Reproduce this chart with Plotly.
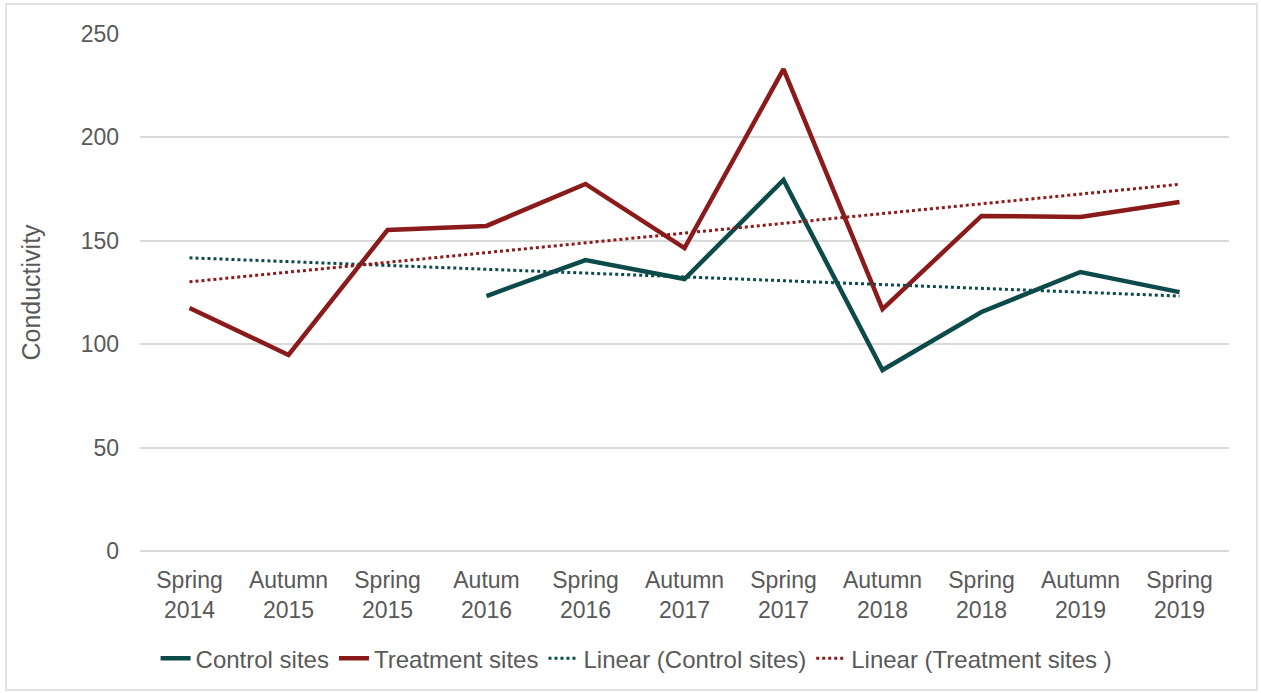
import numpy as np
import plotly.graph_objects as go

# Survey rounds (category labels) and mean conductivity per site group
seasons = ["Spring<br>2014", "Autumn<br>2015", "Spring<br>2015", "Autum<br>2016",
           "Spring<br>2016", "Autumn<br>2017", "Spring<br>2017", "Autumn<br>2018",
           "Spring<br>2018", "Autumn<br>2019", "Spring<br>2019"]
control = [None, None, None, 123.3, 140.7, 131.5, 179.4, 87.5, 115.6, 134.9, 125.2]
treatment = [117.5, 94.8, 155.2, 157.2, 177.5, 146.5, 233.0, 117.0, 162.0, 161.5, 168.8]

TEAL = "#0D4A4A"
RED = "#8B1A1A"


def linear_trend(values):
    """Least-squares line over category index, evaluated across all categories."""
    idx = np.arange(1, len(values) + 1)
    mask = np.array([v is not None for v in values])
    y = np.array([v for v in values if v is not None], dtype=float)
    slope, intercept = np.polyfit(idx[mask], y, 1)
    return list(slope * idx + intercept)


fig = go.Figure()
fig.add_trace(go.Scatter(x=seasons, y=control, mode="lines", name="Control sites",
                         line=dict(color=TEAL, width=4.5), connectgaps=False))
fig.add_trace(go.Scatter(x=seasons, y=treatment, mode="lines", name="Treatment sites",
                         line=dict(color=RED, width=4.5)))
fig.add_trace(go.Scatter(x=seasons, y=linear_trend(control), mode="lines",
                         name="Linear (Control sites)",
                         line=dict(color=TEAL, width=3, dash="dot")))
fig.add_trace(go.Scatter(x=seasons, y=linear_trend(treatment), mode="lines",
                         name="Linear (Treatment sites )",
                         line=dict(color=RED, width=3, dash="dot")))

font_family = "Liberation Sans, Arial, sans-serif"

fig.update_layout(
    width=1261, height=693,
    margin=dict(l=140, r=32, t=34, b=142),
    paper_bgcolor="white", plot_bgcolor="white",
    font=dict(family=font_family, size=23, color="#595959"),
    showlegend=True,
    legend=dict(orientation="h", x=0.456, xanchor="center",
                yref="container", y=0.082, yanchor="top",
                font=dict(size=24, color="#595959"), tracegroupgap=0),
    xaxis=dict(showgrid=False, showline=False, ticks="", tickfont=dict(size=23),
               range=[-0.5, 10.5], ticklabelstandoff=13, automargin=False),
    yaxis=dict(range=[0, 250], dtick=50, showgrid=True, gridcolor="#D9D9D9",
               gridwidth=1.5, zeroline=True, zerolinecolor="#D9D9D9", zerolinewidth=1.5,
               showline=False, ticks="", tickfont=dict(size=23), ticklabelstandoff=20,
               automargin=False,
               title=dict(text="Conductivity", font=dict(size=25, color="#595959"),
                          standoff=32)),
    shapes=[dict(type="rect", xref="paper", yref="paper",
                 x0=-0.123, x1=1.0257, y0=-0.269, y1=1.058,
                 line=dict(color="#D9D9D9", width=1.5), fillcolor="rgba(0,0,0,0)",
                 layer="below")],
)

fig.write_html("out.html")
